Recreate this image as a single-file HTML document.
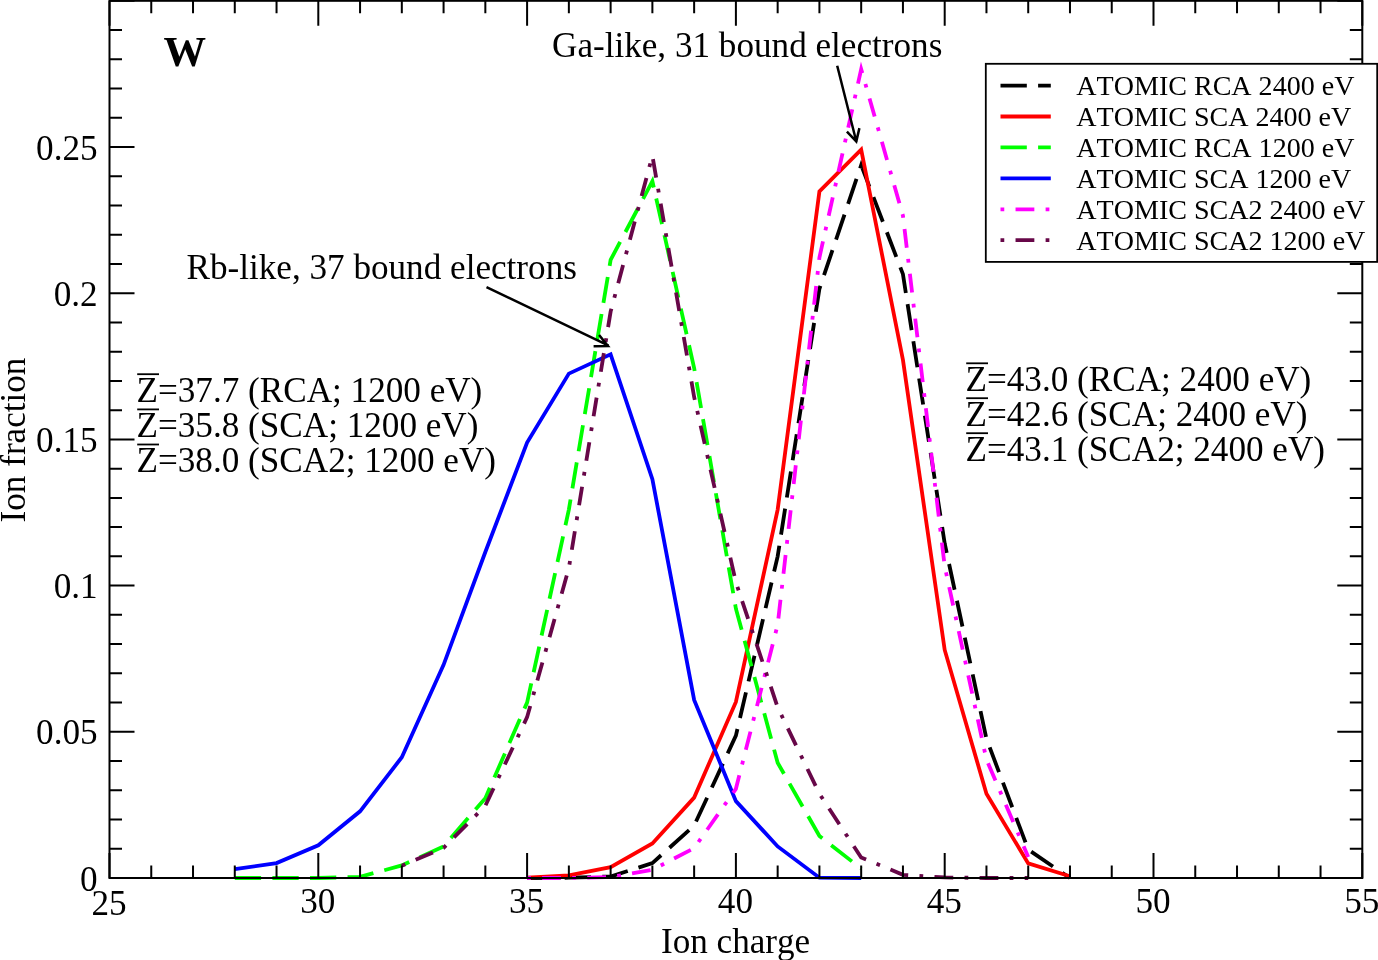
<!DOCTYPE html>
<html lang="en"><head><meta charset="utf-8"><title>W ion fraction</title>
<style>html,body{margin:0;padding:0;background:#fff;}body{width:1378px;height:960px;overflow:hidden;}svg{display:block;}text{font-family:"Liberation Serif","Times New Roman",serif;fill:#000;font-kerning:none;}</style>
</head><body>
<svg width="1378" height="960" viewBox="0 0 1378 960">
<rect x="0" y="0" width="1378" height="960" fill="#ffffff"/>
<g fill="none" stroke-width="3.80" stroke-linejoin="miter" stroke-miterlimit="10" stroke-linecap="butt">
<polyline points="527.10,878.00 568.86,877.71 610.62,876.54 652.38,863.09 694.14,825.66 735.90,735.60 777.66,556.36 819.42,288.81 861.18,165.13 902.94,274.19 944.70,543.49 986.46,738.82 1028.22,849.64 1069.98,878.00" stroke="#000000" stroke-dasharray="26.32 11.28"/>
<polyline points="527.10,877.71 568.86,875.37 610.62,867.18 652.38,843.50 694.14,797.59 735.90,701.98 777.66,509.58 819.42,191.44 861.18,149.63 902.94,359.87 944.70,649.93 986.46,793.79 1028.22,863.38 1069.98,876.25" stroke="#ff0000"/>
<polyline points="234.78,878.00 276.54,878.00 318.30,878.00 360.06,876.83 401.82,865.43 443.58,846.42 485.34,798.17 527.10,702.56 568.86,509.58 610.62,259.87 652.38,181.21 694.14,368.05 735.90,608.70 777.66,762.79 819.42,835.89 861.18,868.64" stroke="#00ff00" stroke-dasharray="26.32 11.28"/>
<polyline points="234.78,869.23 276.54,863.09 318.30,845.25 360.06,811.33 401.82,757.24 443.58,664.84 485.34,551.97 527.10,442.62 568.86,373.61 610.62,354.31 652.38,479.17 694.14,699.93 735.90,801.10 777.66,846.42 819.42,877.71 861.18,878.00" stroke="#0000ff"/>
<polyline points="527.10,878.00 568.86,878.00 610.62,877.12 652.38,869.81 694.14,848.18 735.90,788.82 777.66,624.78 819.42,257.53 861.18,69.22 902.94,215.71 944.70,566.30 986.46,759.58 1028.22,856.95" stroke="#ff00ff" stroke-dasharray="3.76 11.28 18.80 11.28"/>
<polyline points="401.82,865.72 443.58,847.88 485.34,805.78 527.10,717.18 568.86,568.06 610.62,311.62 652.38,155.77 694.14,397.00 735.90,582.38 777.66,707.24 819.42,793.79 861.18,857.53 902.94,874.78 944.70,877.42 986.46,878.00 1028.22,878.00" stroke="#670748" stroke-dasharray="3.76 11.28 18.80 11.28"/>
</g>
<g fill="none" stroke="#000" stroke-width="2.00" stroke-linecap="butt">
<rect x="109.50" y="0.80" width="1252.80" height="877.20"/>
<path d="M109.50 878.00V853.00M109.50 0.80V25.80M151.26 878.00V865.50M151.26 0.80V13.30M193.02 878.00V865.50M193.02 0.80V13.30M234.78 878.00V865.50M234.78 0.80V13.30M276.54 878.00V865.50M276.54 0.80V13.30M318.30 878.00V853.00M318.30 0.80V25.80M360.06 878.00V865.50M360.06 0.80V13.30M401.82 878.00V865.50M401.82 0.80V13.30M443.58 878.00V865.50M443.58 0.80V13.30M485.34 878.00V865.50M485.34 0.80V13.30M527.10 878.00V853.00M527.10 0.80V25.80M568.86 878.00V865.50M568.86 0.80V13.30M610.62 878.00V865.50M610.62 0.80V13.30M652.38 878.00V865.50M652.38 0.80V13.30M694.14 878.00V865.50M694.14 0.80V13.30M735.90 878.00V853.00M735.90 0.80V25.80M777.66 878.00V865.50M777.66 0.80V13.30M819.42 878.00V865.50M819.42 0.80V13.30M861.18 878.00V865.50M861.18 0.80V13.30M902.94 878.00V865.50M902.94 0.80V13.30M944.70 878.00V853.00M944.70 0.80V25.80M986.46 878.00V865.50M986.46 0.80V13.30M1028.22 878.00V865.50M1028.22 0.80V13.30M1069.98 878.00V865.50M1069.98 0.80V13.30M1111.74 878.00V865.50M1111.74 0.80V13.30M1153.50 878.00V853.00M1153.50 0.80V25.80M1195.26 878.00V865.50M1195.26 0.80V13.30M1237.02 878.00V865.50M1237.02 0.80V13.30M1278.78 878.00V865.50M1278.78 0.80V13.30M1320.54 878.00V865.50M1320.54 0.80V13.30M1362.30 878.00V853.00M1362.30 0.80V25.80M109.50 878.00H134.50M1362.30 878.00H1337.30M109.50 848.76H122.00M1362.30 848.76H1349.80M109.50 819.52H122.00M1362.30 819.52H1349.80M109.50 790.28H122.00M1362.30 790.28H1349.80M109.50 761.04H122.00M1362.30 761.04H1349.80M109.50 731.80H134.50M1362.30 731.80H1337.30M109.50 702.56H122.00M1362.30 702.56H1349.80M109.50 673.32H122.00M1362.30 673.32H1349.80M109.50 644.08H122.00M1362.30 644.08H1349.80M109.50 614.84H122.00M1362.30 614.84H1349.80M109.50 585.60H134.50M1362.30 585.60H1337.30M109.50 556.36H122.00M1362.30 556.36H1349.80M109.50 527.12H122.00M1362.30 527.12H1349.80M109.50 497.88H122.00M1362.30 497.88H1349.80M109.50 468.64H122.00M1362.30 468.64H1349.80M109.50 439.40H134.50M1362.30 439.40H1337.30M109.50 410.16H122.00M1362.30 410.16H1349.80M109.50 380.92H122.00M1362.30 380.92H1349.80M109.50 351.68H122.00M1362.30 351.68H1349.80M109.50 322.44H122.00M1362.30 322.44H1349.80M109.50 293.20H134.50M1362.30 293.20H1337.30M109.50 263.96H122.00M1362.30 263.96H1349.80M109.50 234.72H122.00M1362.30 234.72H1349.80M109.50 205.48H122.00M1362.30 205.48H1349.80M109.50 176.24H122.00M1362.30 176.24H1349.80M109.50 147.00H134.50M1362.30 147.00H1337.30M109.50 117.76H122.00M1362.30 117.76H1349.80M109.50 88.52H122.00M1362.30 88.52H1349.80M109.50 59.28H122.00M1362.30 59.28H1349.80M109.50 30.04H122.00M1362.30 30.04H1349.80M109.50 0.80H134.50M1362.30 0.80H1337.30"/>
</g>
<g font-size="35.15">
<text x="109.00" y="914.70" text-anchor="middle">25</text>
<text x="317.80" y="913.20" text-anchor="middle">30</text>
<text x="526.60" y="913.20" text-anchor="middle">35</text>
<text x="735.40" y="913.20" text-anchor="middle">40</text>
<text x="944.20" y="913.20" text-anchor="middle">45</text>
<text x="1153.00" y="913.20" text-anchor="middle">50</text>
<text x="1361.80" y="913.20" text-anchor="middle">55</text>
<text x="97.60" y="890.50" text-anchor="end">0</text>
<text x="97.60" y="744.30" text-anchor="end">0.05</text>
<text x="97.60" y="598.10" text-anchor="end">0.1</text>
<text x="97.60" y="451.90" text-anchor="end">0.15</text>
<text x="97.60" y="305.70" text-anchor="end">0.2</text>
<text x="97.60" y="159.50" text-anchor="end">0.25</text>
<text x="735.60" y="952.6" text-anchor="middle">Ion charge</text>
<text transform="translate(24.9 440.00) rotate(-90)" text-anchor="middle">Ion fraction</text>
<text x="552.0" y="57.1">Ga-like, 31 bound electrons</text>
<text x="186.5" y="279.1">Rb-like, 37 bound electrons</text>
<text x="136.50" y="401.60">Z=37.7 (RCA; 1200 eV)</text>
<path d="M137.20 374.20H159.00" stroke="#000" stroke-width="1.8" fill="none"/>
<text x="136.50" y="436.80">Z=35.8 (SCA; 1200 eV)</text>
<path d="M137.20 409.40H159.00" stroke="#000" stroke-width="1.8" fill="none"/>
<text x="136.50" y="471.90">Z=38.0 (SCA2; 1200 eV)</text>
<path d="M137.20 444.50H159.00" stroke="#000" stroke-width="1.8" fill="none"/>
<text x="965.50" y="390.70">Z=43.0 (RCA; 2400 eV)</text>
<path d="M966.20 363.30H988.00" stroke="#000" stroke-width="1.8" fill="none"/>
<text x="965.50" y="425.60">Z=42.6 (SCA; 2400 eV)</text>
<path d="M966.20 398.20H988.00" stroke="#000" stroke-width="1.8" fill="none"/>
<text x="965.50" y="460.60">Z=43.1 (SCA2; 2400 eV)</text>
<path d="M966.20 433.20H988.00" stroke="#000" stroke-width="1.8" fill="none"/>
</g>
<text x="163.5" y="66.2" font-size="42.6" font-weight="bold">W</text>
<g fill="none" stroke="#000" stroke-width="2.5" stroke-linejoin="miter" stroke-linecap="butt">
<path d="M486.5 287.2L608.6 345.6M593.6 346.25L608.0 346.1L599.1 335"/>
<path d="M837.2 65.7L856.5 142.2M846.9 131.6L856.3 141.4L859.4 128.1"/>
</g>
<rect x="985.80" y="63.80" width="391.40" height="198.10" fill="#fff" stroke="#000" stroke-width="1.8"/>
<g fill="none" stroke-width="3.80" stroke-linecap="butt">
<path d="M1000.5 85.60H1050.8" stroke="#000000" stroke-dasharray="26.32 11.28"/>
<path d="M1000.5 116.52H1050.8" stroke="#ff0000"/>
<path d="M1000.5 147.44H1050.8" stroke="#00ff00" stroke-dasharray="26.32 11.28"/>
<path d="M1000.5 178.36H1050.8" stroke="#0000ff"/>
<path d="M1000.5 209.28H1050.8" stroke="#ff00ff" stroke-dasharray="3.76 11.28 18.80 11.28"/>
<path d="M1000.5 240.20H1050.8" stroke="#670748" stroke-dasharray="3.76 11.28 18.80 11.28"/>
</g>
<g font-size="28.05">
<text x="1076.3" y="95.20">ATOMIC RCA 2400 eV</text>
<text x="1076.3" y="126.12">ATOMIC SCA 2400 eV</text>
<text x="1076.3" y="157.04">ATOMIC RCA 1200 eV</text>
<text x="1076.3" y="187.96">ATOMIC SCA 1200 eV</text>
<text x="1076.3" y="218.88">ATOMIC SCA2 2400 eV</text>
<text x="1076.3" y="249.80">ATOMIC SCA2 1200 eV</text>
</g>
</svg></body></html>
